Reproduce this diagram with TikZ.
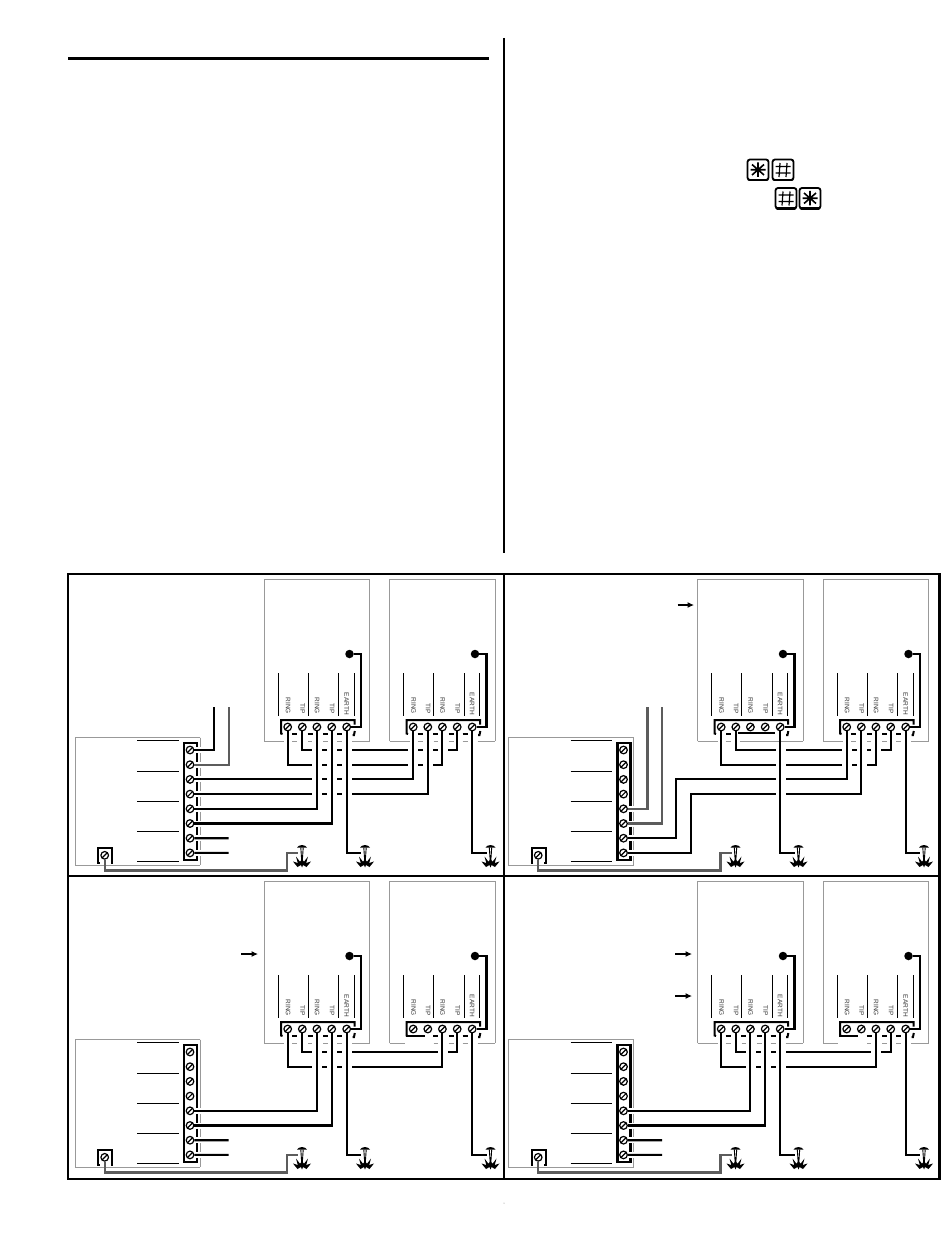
\documentclass[tikz,border=0pt]{standalone}
\usepackage{fontspec}
\setmainfont{Liberation Sans}
\usetikzlibrary{arrows.meta}
\definecolor{boxgray}{gray}{0.6}
\definecolor{wiregray}{gray}{0.36}
\tikzset{
  wire/.style={line width=2.1,black,line join=miter},
  graywire/.style={line width=2.1,wiregray,line join=miter},
  thinline/.style={line width=1,black},
  boxline/.style={line width=0.9,boxgray},
  hopst/.style={line width=3.8,white},
  bracketline/.style={line width=2,black},
  screw/.style={circle,draw,line width=1.2,minimum size=7.6,inner sep=0,fill=white,
    path picture={\draw[line width=1.2] (path picture bounding box.south west) -- (path picture bounding box.north east);}},
  lbl/.style={rotate=-90,anchor=east,inner sep=0,text=black!78,font=\fontsize{6.5}{7}\selectfont},
  smallarrow/.style={line width=1.1,-{Latex[length=6.5,width=6]}},
  keycap/.style={draw,line width=1.8,rounded corners=2.5,fill=white},
}
\newcommand\hops[2]{\foreach \hx in {#2} {\draw[hopst] ({\hx-5},#1) -- ({\hx+5},#1);}}
\newcommand\gnd[2]{% #1 name, #2 x of wire end, y=853
  \coordinate (#1) at (#2,853);
  \begin{scope}[shift={(#2+4,853)}]
    \fill (-5,-5.4) -- (-3.2,-7.2) -- (0,-8) -- (3.2,-7.2) -- (5,-5.4) -- cycle;
    \draw[line width=0.9] (-1.2,-5.5) -- (-0.3,8) (1.2,-5.5) -- (0.3,8);
    \fill (-9,8.5) -- (-4.2,10) -- (-6,3.5) -- (-2,8.8) -- (0,6) -- (2,8.8) -- (6,3.5) -- (4.2,10) -- (9,8.5) -- (4.5,14) -- (1,12) -- (0,14.5) -- (-1,12) -- (-4.5,14) -- cycle;
  \end{scope}}
\newcommand\device[2]{% #1 prefix, #2 x shift
  \begin{scope}[shift={(#2,0)}]
    \draw[boxline] (264,741) -- (264,579.5) -- (369.5,579.5) -- (369.5,741);
    \foreach \lx in {278.3,308.3,338.7,354.3} {\draw[thinline] (\lx,673) -- (\lx,716);}
    \node[lbl] (#1lr) at (288,714) {RING};
    \node[lbl] (#1lt) at (302.5,714) {TIP};
    \node[lbl] (#1ls) at (317,714) {RING};
    \node[lbl] (#1lu) at (332,714) {TIP};
    \node[lbl] (#1le) at (346.5,715) {EARTH};
    \foreach \i/\sx in {1/287.7,2/302.3,3/316.9,4/331.7,5/346.7} {\node[screw] (#1\i) at (\sx,727) {};}
    \node[circle,fill=black,minimum size=8.5,inner sep=0] (#1dot) at (349.5,654) {};
    \coordinate (#1k) at (361,727);
    \draw[wire] (#1dot) -| (#1k) -- (#15);
    \draw[bracketline] (282.5,734) -- (281,733.5) -- (281,720) -- (354.5,720) -- (354.5,724.5);
    \draw[bracketline] (354.8,731) -- (354,735) -- (352.5,735);
  \end{scope}}
\newcommand\dsh[2]{\begin{scope}[shift={(#1,0)}]\foreach \dx in {#2} {\draw[bracketline] ({\dx-2.5},734) -- ({\dx+2.5},734);}\end{scope}}
\newcommand\gbot[3]{\draw[boxline] ({#1+#2},741) -- ({#1+#3},741);}
\newcommand\brnormal[1]{\dsh{#1}{294.5,310,325.5,339.5}\gbot{#1}{264}{284}\gbot{#1}{292}{297}\gbot{#1}{308}{312}\gbot{#1}{323}{328}\gbot{#1}{337}{342}\gbot{#1}{352}{369.5}}
\newcommand\brclosedright[1]{\dsh{#1}{295}\draw[bracketline] ({#1+304.5},732.5) -- ({#1+341.5},732.5);\gbot{#1}{264}{284}\gbot{#1}{292}{297}\gbot{#1}{306}{369.5}}
\newcommand\brclosedleft[1]{\dsh{#1}{310,325.5,339.5}\draw[bracketline] ({#1+281},733) -- ({#1+281},734) -- ({#1+299},734);\gbot{#1}{264}{279}\gbot{#1}{308}{312}\gbot{#1}{323}{328}\gbot{#1}{337}{342}\gbot{#1}{352}{369.5}}
\newcommand\control[2]{% #1 prefix, #2 first wired terminal
  \draw[boxline] (200.3,737.7) -- (75.3,737.7) -- (75.3,865.3) -- (200.3,865.3);
  \foreach \ly in {740.3,771.3,801,831.7,861.3} {\draw[thinline] (137,\ly) -- (178.7,\ly);}
  \foreach \i in {1,...,8} {\pgfmathsetmacro\cy{750+14.7*(\i-1)}\node[screw] (#1c\i) at (190,\cy) {};}
  \pgfmathsetmacro\fy{750+14.7*(#2-1)-3}
  \draw[line width=2.3] (197,\fy) -- (197,742.8) -- (184,742.8) -- (184,860) -- (197,860) -- (197,855.8);
  \draw[boxline] (200.3,737.7) -- (200.3,\fy);
  \foreach \i in {#2,...,7} {
    \pgfmathsetmacro\ya{750+14.7*(\i-1)+3}\pgfmathsetmacro\yb{750+14.7*\i-3}
    \draw[line width=2.3] (197,\ya) -- (197,\yb);
    \draw[boxline] (200.3,\ya) -- (200.3,\yb);}
  \draw[boxline] (200.3,856) -- (200.3,865.3);
  \draw[bracketline] (99.5,863.3) -- (98,863.3) -- (98,848.3) -- (112,848.3) -- (112,863.3) -- (110.5,863.3);
  \node[screw] (#1s) at (104.7,855.3) {};
  \coordinate (#1k0) at (287,870.5);
  \gnd{#1g0}{298}
  \gnd{#1g1}{361}
  \gnd{#1g2}{486.5}
  \draw[graywire] (#1s) |- (#1k0) |- (#1g0);
  \coordinate (#1t1) at (214,707);
  \coordinate (#1t2) at (228.7,707);
  \coordinate (#1t3) at (228.7,838.2);
  \coordinate (#1t4) at (228.7,852.9);}
\newcommand\lowerwires[1]{% the two lower panels share their wiring
  \draw[wire] (#1d2) -- ++(0,23) -| (#1e4);
  \hops{750}{317,332,347,442.7}
  \draw[wire] (#1d1) -- ++(0,38) -| (#1e3);
  \hops{765}{317,332,347}
  \draw[wire] (#1c5) -| (#1d3);
  \draw[wire] (#1c6) -| (#1d4);
  \draw[wire] (#1c7) -- (#1t3);
  \draw[wire] (#1c8) -- (#1t4);
  \draw[wire] (#1d5) |- (#1g1);
  \draw[wire] (#1e5) |- (#1g2);}
\newcommand\keyhash[2]{\begin{scope}[shift={(#1,#2)}]
  \draw[keycap] (0,0) rectangle (21,20.5);
  \draw[line width=2.8,line cap=round] (1.5,20.5) -- (19.5,20.5);
  \draw[line width=1.2] (7.5,3.5) -- (6.5,17.5) (14.5,3.5) -- (13.5,17.5) (3,7) -- (18,7) (3,13.5) -- (18,13.5);
\end{scope}}
\newcommand\keystar[2]{\begin{scope}[shift={(#1,#2)}]
  \draw[keycap] (0,0) rectangle (21,20.5);
  \draw[line width=2.8,line cap=round] (1.5,20.5) -- (19.5,20.5);
  \draw[line width=1.6] (10.5,3) -- (10.5,17.5) (4.5,5) -- (16.5,15.5) (16.5,5) -- (4.5,15.5) (3,10.3) -- (18,10.3);
\end{scope}}
\begin{document}
\begin{tikzpicture}[x=1pt,y=-1pt]
\useasboundingbox (0,0) rectangle (950,1241);
\fill[white] (0,0) rectangle (950,1241);
% page furniture
\draw[line width=3.2] (68,58.5) -- (489,58.5);
\draw[line width=2.2] (504,38) -- (504,553);
\keystar{747.5}{159.5}
\keyhash{772.5}{159.5}
\keyhash{775.5}{188}
\keystar{799.5}{188}
\fill[black!50] (504,1203) circle (0.5);
% panel a: top left
\begin{scope}
  \device{a-d}{0}\device{a-e}{125.5}\control{a-}{1}
  \brnormal{0}\brnormal{125.5}
  \draw[wire] (a-c1) -| (a-t1);
  \draw[graywire] (a-c2) -| (a-t2);
  \draw[wire] (a-d2) -- ++(0,23) -| (a-e4);
  \hops{750}{317,332,347,413.2,428,442.7}
  \draw[wire] (a-d1) -- ++(0,38) -| (a-e3);
  \hops{765}{317,332,347,413.2,428}
  \draw[wire] (a-c3) -| (a-e1);
  \hops{779.4}{317,332,347}
  \draw[wire] (a-c4) -| (a-e2);
  \hops{794.1}{317,332,347}
  \draw[wire] (a-c5) -| (a-d3);
  \draw[wire] (a-c6) -| (a-d4);
  \draw[wire] (a-c7) -- (a-t3);
  \draw[wire] (a-c8) -- (a-t4);
  \draw[wire] (a-d5) |- (a-g1);
  \draw[wire] (a-e5) |- (a-g2);
\end{scope}
% panel b: top right
\begin{scope}[shift={(433.5,0)}]
  \device{b-d}{0}\device{b-e}{125.5}\control{b-}{5}
  \brclosedright{0}\brnormal{125.5}
  \coordinate (b-k1) at (242.5,779.4);
  \coordinate (b-k2) at (257.2,794.1);
  \coordinate (b-a) at (244,605);
  \coordinate (b-b) at (260.5,605);
  \draw[smallarrow] (b-a) -- (b-b);
  \draw[graywire] (b-c5) -| (b-t1);
  \draw[graywire] (b-c6) -| (b-t2);
  \draw[wire] (b-d2) -- ++(0,23) -| (b-e4);
  \hops{750}{347,413.2,428,442.7}
  \draw[wire] (b-d1) -- ++(0,38) -| (b-e3);
  \hops{765}{347,413.2,428}
  \draw[wire] (b-c7) -| (b-k1) -| (b-e1);
  \hops{779.4}{347}
  \draw[wire] (b-c8) -| (b-k2) -| (b-e2);
  \hops{794.1}{347}
  \draw[wire] (b-d5) |- (b-g1);
  \draw[wire] (b-e5) |- (b-g2);
\end{scope}
% panel c: bottom left
\begin{scope}[shift={(0,302)}]
  \device{c-d}{0}\device{c-e}{125.5}\control{c-}{5}
  \brnormal{0}\brclosedleft{125.5}
  \coordinate (c-a) at (241,652);
  \coordinate (c-b) at (258,652);
  \draw[smallarrow] (c-a) -- (c-b);
  \lowerwires{c-}
\end{scope}
% panel d: bottom right
\begin{scope}[shift={(433.5,302)}]
  \device{d-d}{0}\device{d-e}{125.5}\control{d-}{5}
  \brnormal{0}\brclosedleft{125.5}
  \coordinate (d-a) at (241.5,652);
  \coordinate (d-b) at (258.5,652);
  \coordinate (d-p) at (241.5,694);
  \coordinate (d-q) at (258.5,694);
  \draw[smallarrow] (d-a) -- (d-b);
  \draw[smallarrow] (d-p) -- (d-q);
  \lowerwires{d-}
\end{scope}
% frames
\draw[line width=2.2] (68,574) rectangle (939.5,1179);
\draw[line width=2.2] (68,876) -- (939.5,876);
\draw[line width=2.2] (504,574) -- (504,1179);
\end{tikzpicture}
\end{document}
